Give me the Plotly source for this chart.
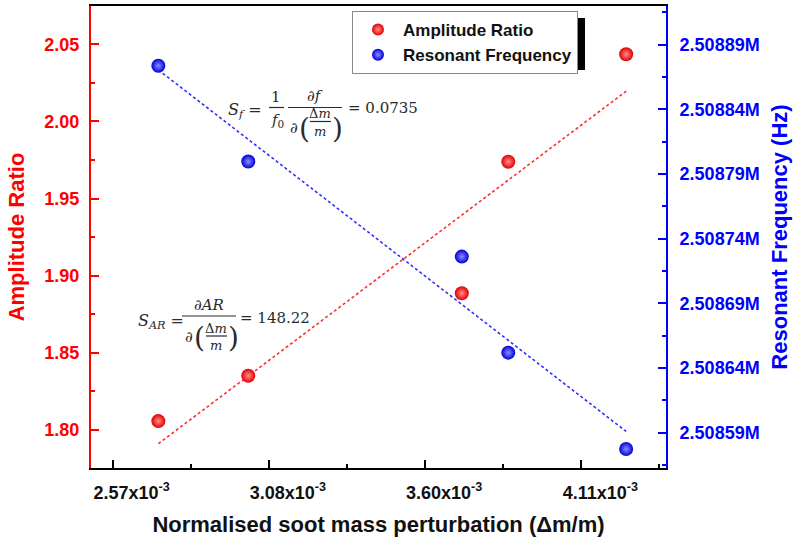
import numpy as np
import plotly.graph_objects as go

# ---------------- data ----------------
norm_mass = [2.722e-3, 3.018e-3, 3.721e-3, 3.874e-3, 4.262e-3]
amplitude_ratio = [1.8058, 1.8352, 1.8886, 1.9739, 2.0435]
resonant_freq = [2508873.8, 2508799.7, 2508726.2, 2508651.9, 2508577.4]

x_tick_vals = [2.5714e-3, 3.0857e-3, 3.6e-3, 4.1143e-3]
x_tick_text = ["2.57x10<sup>-3</sup>", "3.08x10<sup>-3</sup>",
               "3.60x10<sup>-3</sup>", "4.11x10<sup>-3</sup>"]

# ---------------- layout geometry ----------------
W, H = 800, 543
L, R, T, B = 91, 134, 6, 75
PW, PH = W - L - R, H - T - B

def pp(x, y):
    return (x - L) / PW, (H - B - y) / PH

FONT = "Liberation Sans, Arial, sans-serif"
MATH = "DejaVu Serif, serif"
MCOL = "#2a2a2a"

# linear fits
xa = np.array(norm_mass)
ka, ba = np.polyfit(xa, np.array(amplitude_ratio), 1)
kf, bf = np.polyfit(xa, np.array(resonant_freq), 1)
xfit = np.array([xa.min(), xa.max()])

fig = go.Figure()

fig.add_trace(go.Scatter(
    x=xfit, y=ka * xfit + ba, mode="lines", showlegend=False,
    line=dict(color="#ff3030", width=1.6, dash="3px,2.5px"), hoverinfo="skip"))
fig.add_trace(go.Scatter(
    x=xfit, y=kf * xfit + bf, mode="lines", showlegend=False, yaxis="y2",
    line=dict(color="#3030ff", width=1.6, dash="3px,2.5px"), hoverinfo="skip"))

fig.add_trace(go.Scatter(
    x=norm_mass, y=amplitude_ratio, mode="markers", name="Amplitude Ratio",
    marker=dict(size=14, color="#e00000", line=dict(width=0),
                gradient=dict(type="radial", color="#ff8c8c"))))
fig.add_trace(go.Scatter(
    x=norm_mass, y=resonant_freq, mode="markers", name="Resonant Frequency",
    yaxis="y2",
    marker=dict(size=14, color="#0000d8", line=dict(width=0),
                gradient=dict(type="radial", color="#8c8cff"))))

fig.update_layout(
    width=W, height=H,
    margin=dict(l=L, r=R, t=T, b=B, pad=0, autoexpand=False),
    paper_bgcolor="white", plot_bgcolor="white",
    font=dict(family=FONT),
    showlegend=True,
    legend=dict(
        x=pp(352, 11)[0], y=pp(352, 11)[1], xanchor="left", yanchor="top",
        bgcolor="white", bordercolor="#8a8a8a", borderwidth=1,
        font=dict(family=FONT, size=17, color="#111111", weight="bold"),
        itemsizing="constant", itemwidth=40, tracegroupgap=0),
    xaxis=dict(
        range=[2.5003e-3, 4.3932e-3], automargin=False,
        tickmode="array", tickvals=x_tick_vals, ticktext=x_tick_text,
        ticks="inside", ticklen=8, tickwidth=1.5, tickcolor="black",
        showline=True, linecolor="black", linewidth=2, mirror=True,
        showgrid=False, zeroline=False,
        ticklabelshift=19, ticklabelstandoff=7,
        tickfont=dict(family=FONT, size=18, color="#111111", weight="bold"),
        title=dict(text="Normalised soot mass perturbation (Δm/m)",
                   font=dict(family=FONT, size=22, color="#111111", weight="bold"),
                   standoff=15),
        minor=dict(tickmode="linear", tick0=2.5714e-3, dtick=0.25714e-3,
                   ticks="inside", ticklen=4, tickwidth=1.5, tickcolor="black"),
    ),
    yaxis=dict(
        range=[1.7754, 2.0748], tick0=1.80, dtick=0.05, tickformat=".2f",
        automargin=False,
        ticks="inside", ticklen=8, tickwidth=1.5, tickcolor="red",
        showline=True, linecolor="red", linewidth=2,
        showgrid=False, zeroline=False,
        tickfont=dict(family=FONT, size=18, color="red", weight="bold"),
        ticklabelstandoff=6,
        title=dict(text="Amplitude Ratio",
                   font=dict(family=FONT, size=22, color="red", weight="bold"),
                   standoff=14),
        minor=dict(tickmode="linear", tick0=1.775, dtick=0.025,
                   ticks="inside", ticklen=4, tickwidth=1.5, tickcolor="red"),
    ),
    yaxis2=dict(
        overlaying="y", side="right", automargin=False,
        range=[2508562.7, 2508920], tick0=2508590, dtick=50, tickformat=".6s",
        ticks="inside", ticklen=8, tickwidth=1.5, tickcolor="blue",
        showline=True, linecolor="blue", linewidth=2,
        showgrid=False, zeroline=False,
        tickfont=dict(family=FONT, size=18, color="blue", weight="bold"),
        ticklabelstandoff=8,
        title=dict(text="Resonant Frequency (Hz)",
                   font=dict(family=FONT, size=22, color="blue", weight="bold"),
                   standoff=13),
        minor=dict(tickmode="linear", tick0=2508565, dtick=25,
                   ticks="inside", ticklen=4, tickwidth=1.5, tickcolor="blue"),
    ),
)

# legend drop shadow
sx0, sy0 = pp(359, 18)
sx1, sy1 = pp(585, 70)
fig.add_shape(type="rect", xref="paper", yref="paper", x0=sx0, y0=sy1, x1=sx1, y1=sy0,
              fillcolor="black", line=dict(width=0), layer="above")


def txt(x, y, text, size=15, xanchor="center", family=MATH):
    px, py = pp(x, y)
    fig.add_annotation(x=px, y=py, xref="paper", yref="paper", text=text,
                       showarrow=False, xanchor=xanchor, yanchor="middle",
                       font=dict(family=family, size=size, color=MCOL))


def bar(x0, x1, y):
    a0, b0 = pp(x0, y)
    a1, _ = pp(x1, y)
    fig.add_shape(type="line", xref="paper", yref="paper", x0=a0, y0=b0, x1=a1, y1=b0,
                  line=dict(color=MCOL, width=1.2), layer="above")


# ---- S_f formula ----
txt(226, 110, "<i>S</i><sub><i>f</i></sub> =", size=16, xanchor="left")
txt(276, 97, "1")
bar(269, 284, 107.5)
txt(277, 121, "<i>f</i><sub>0</sub>")
txt(315, 96, "∂<i>f</i>")
bar(288, 342, 107.5)
txt(294, 128, "∂")
txt(304, 128, "(", size=28)
txt(320, 114, "Δ<i>m</i>", size=13)
bar(310, 331, 121.5)
txt(320, 131, "<i>m</i>", size=13)
txt(337, 128, ")", size=28)
txt(346, 108, "= 0.0735", xanchor="left")

# ---- S_AR formula ----
txt(136, 322, "<i>S</i><sub><i>AR</i></sub> =", size=16, xanchor="left")
txt(209, 305, "∂<i>AR</i>")
bar(182, 236, 316)
txt(189, 337, "∂")
txt(199, 337, "(", size=28)
txt(216, 329, "Δ<i>m</i>", size=13)
bar(206, 227, 336)
txt(216, 345, "<i>m</i>", size=13)
txt(233, 337, ")", size=28)
txt(238, 318, "= 148.22", xanchor="left")

fig.write_html("out.html",
               config={"displayModeBar": False},
               post_script="document.body.style.margin='0';document.body.style.overflow='hidden';")
